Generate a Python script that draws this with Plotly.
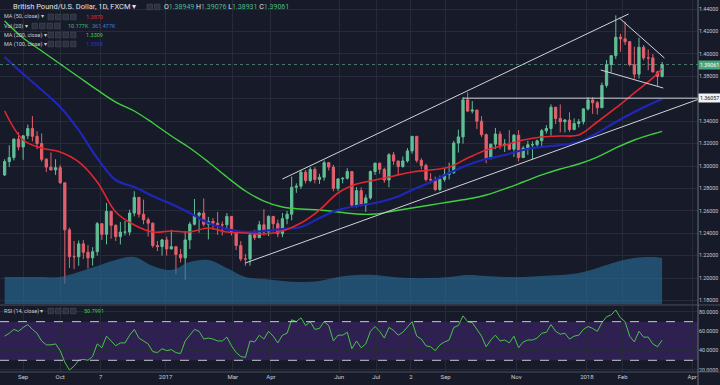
import pandas as pd
import plotly.graph_objects as go

# ---------------- data ----------------
start_date = "2016-08-16"
step_days = 4
first_open = 1.2920

close = [1.3040, 1.3075, 1.3240, 1.3170, 1.3270, 1.3335, 1.3265, 1.3200, 1.3060, 1.2990,
         1.2965, 1.2985, 1.2850, 1.2430, 1.2190, 1.2190, 1.2305, 1.2230, 1.2180, 1.2235,
         1.2485, 1.2390, 1.2595, 1.2470, 1.2370, 1.2410, 1.2410, 1.2580, 1.2720, 1.2570,
         1.2520, 1.2490, 1.2290, 1.2280, 1.2340, 1.2260, 1.2280, 1.2210, 1.2180, 1.2340,
         1.2480, 1.2560, 1.2580, 1.2480, 1.2505, 1.2490, 1.2475, 1.2475, 1.2550, 1.2405,
         1.2290, 1.2170, 1.2170, 1.2385, 1.2360, 1.2475, 1.2410, 1.2550, 1.2485, 1.2395,
         1.2530, 1.2570, 1.2810, 1.2820, 1.2945, 1.2870, 1.2970, 1.2880, 1.2900, 1.3030,
         1.2990, 1.2800, 1.2885, 1.2890, 1.2950, 1.2650, 1.2780, 1.2650, 1.2715, 1.2950,
         1.3025, 1.2970, 1.2875, 1.3100, 1.3045, 1.2995, 1.3045, 1.3135, 1.3265, 1.3050,
         1.3005, 1.2880, 1.2875, 1.2790, 1.2880, 1.2925, 1.2940, 1.3205, 1.3260, 1.3590,
         1.3490, 1.3500, 1.3400, 1.3280, 1.3065, 1.3195, 1.3285, 1.3185, 1.3195, 1.3150,
         1.3275, 1.3075, 1.3160, 1.3190, 1.3190, 1.3225, 1.3315, 1.3335, 1.3525, 1.3425,
         1.3395, 1.3410, 1.3325, 1.3380, 1.3395, 1.3510, 1.3590, 1.3565, 1.3520, 1.3720,
         1.3905, 1.3985, 1.4150, 1.4135, 1.4110, 1.3905, 1.3820, 1.4060, 1.3965, 1.3965,
         1.3840, 1.3800, 1.3906]

high = [1.3060, 1.3185, 1.3245, 1.3300, 1.3275, 1.3370, 1.3445, 1.3310, 1.3290, 1.3070,
        1.3120, 1.3060, 1.3010, 1.2850, 1.2450, 1.2330, 1.2335, 1.2340, 1.2295, 1.2275,
        1.2500, 1.2460, 1.2670, 1.2560, 1.2480, 1.2500, 1.2510, 1.2610, 1.2775, 1.2720,
        1.2700, 1.2540, 1.2495, 1.2330, 1.2350, 1.2370, 1.2430, 1.2280, 1.2260, 1.2420,
        1.2500, 1.2705, 1.2590, 1.2710, 1.2545, 1.2535, 1.2590, 1.2505, 1.2580, 1.2480,
        1.2400, 1.2330, 1.2215, 1.2400, 1.2430, 1.2510, 1.2615, 1.2560, 1.2550, 1.2520,
        1.2580, 1.2600, 1.2905, 1.2845, 1.2965, 1.2965, 1.2990, 1.2990, 1.2930, 1.3050,
        1.3030, 1.3010, 1.2890, 1.2900, 1.2980, 1.2955, 1.2810, 1.2810, 1.2745, 1.2960,
        1.3030, 1.3030, 1.2985, 1.3115, 1.3125, 1.3040, 1.3085, 1.3160, 1.3265, 1.3265,
        1.3070, 1.3020, 1.2935, 1.2905, 1.2915, 1.2980, 1.3030, 1.3225, 1.3325, 1.3615,
        1.3657, 1.3580, 1.3490, 1.3445, 1.3290, 1.3200, 1.3340, 1.3310, 1.3240, 1.3320,
        1.3285, 1.3320, 1.3180, 1.3225, 1.3220, 1.3235, 1.3330, 1.3365, 1.3550, 1.3520,
        1.3550, 1.3420, 1.3480, 1.3425, 1.3420, 1.3515, 1.3615, 1.3615, 1.3580, 1.3745,
        1.3945, 1.3985, 1.4345, 1.4180, 1.4290, 1.4105, 1.4065, 1.4145, 1.4080, 1.4040,
        1.4000, 1.3850, 1.3930]

low = [1.2910, 1.2990, 1.3050, 1.3140, 1.3055, 1.3240, 1.3220, 1.3150, 1.3040, 1.2945,
       1.2960, 1.2920, 1.2840, 1.1950, 1.2090, 1.2080, 1.2110, 1.2170, 1.2085, 1.2110,
       1.2200, 1.2340, 1.2300, 1.2350, 1.2330, 1.2300, 1.2380, 1.2380, 1.2550, 1.2540,
       1.2480, 1.2370, 1.2270, 1.2240, 1.2200, 1.2200, 1.2255, 1.2035, 1.2140, 1.1985,
       1.2260, 1.2470, 1.2405, 1.2460, 1.2345, 1.2430, 1.2385, 1.2380, 1.2430, 1.2380,
       1.2250, 1.2150, 1.2110, 1.2110, 1.2340, 1.2380, 1.2380, 1.2375, 1.2415, 1.2365,
       1.2365, 1.2480, 1.2515, 1.2760, 1.2795, 1.2845, 1.2855, 1.2845, 1.2840, 1.2870,
       1.2960, 1.2775, 1.2775, 1.2845, 1.2880, 1.2635, 1.2630, 1.2640, 1.2590, 1.2700,
       1.2920, 1.2930, 1.2850, 1.2810, 1.3010, 1.2930, 1.2985, 1.3030, 1.3110, 1.3030,
       1.2970, 1.2860, 1.2845, 1.2775, 1.2775, 1.2860, 1.2880, 1.2930, 1.3120, 1.3200,
       1.3485, 1.3470, 1.3330, 1.3260, 1.3025, 1.3075, 1.3150, 1.3150, 1.3125, 1.3140,
       1.3080, 1.3040, 1.3090, 1.3100, 1.3060, 1.3170, 1.3170, 1.3290, 1.3270, 1.3375,
       1.3300, 1.3300, 1.3305, 1.3320, 1.3345, 1.3370, 1.3495, 1.3465, 1.3460, 1.3520,
       1.3700, 1.3835, 1.3955, 1.4020, 1.4080, 1.3890, 1.3780, 1.3780, 1.3945, 1.3855,
       1.3835, 1.3710, 1.3790]

rsi = [55, 58, 62, 60, 64, 67, 62, 58, 50, 46,
       46, 47, 40, 28, 20, 24, 30, 31, 30, 34,
       47, 43, 55, 50, 45, 48, 48, 56, 62, 53,
       50, 47, 39, 38, 42, 40, 41, 38, 37, 50,
       56, 62, 60, 52, 53, 52, 50, 50, 54, 45,
       38, 34, 33, 50, 49, 56, 52, 60, 55, 48,
       56, 58, 72, 70, 74, 66, 70, 62, 63, 70,
       66, 50, 56, 56, 59, 42, 50, 43, 47, 60,
       65, 60, 53, 64, 61, 56, 59, 64, 70, 55,
       52, 45, 44, 40, 46, 49, 51, 64, 66, 76,
       70, 69, 62, 55, 44, 51, 56, 50, 51, 48,
       55, 43, 49, 51, 51, 53, 58, 59, 67, 60,
       57, 58, 52, 55, 56, 62, 65, 63, 60, 69,
       75, 77, 82, 74, 70, 55, 49, 60, 54, 54,
       47, 44, 50.7991]

# moving averages and volume average, one value every 4th candle plus the last one
ma50 = [1.3491, 1.3232, 1.3161, 1.3125, 1.3036, 1.2857, 1.2589, 1.2473, 1.2411, 1.2420,
        1.2411, 1.2446, 1.2411, 1.2402, 1.2393, 1.2420, 1.2491, 1.2607, 1.2759, 1.2839,
        1.2875, 1.2911, 1.2946, 1.2964, 1.2991, 1.3071, 1.3143, 1.3187, 1.3232, 1.3259,
        1.3268, 1.3277, 1.3393, 1.3518, 1.3652, 1.3786, 1.3870]
ma100 = [1.3973, 1.3821, 1.3679, 1.3527, 1.3321, 1.3071, 1.2875, 1.2812, 1.2732, 1.2661,
         1.2580, 1.2491, 1.2437, 1.2411, 1.2420, 1.2437, 1.2455, 1.2536, 1.2607, 1.2643,
         1.2670, 1.2714, 1.2786, 1.2857, 1.2937, 1.3009, 1.3062, 1.3098, 1.3143, 1.3170,
         1.3187, 1.3214, 1.3295, 1.3393, 1.3482, 1.3562, 1.3598]
ma200 = [1.4295, 1.4143, 1.4027, 1.3911, 1.3795, 1.3679, 1.3571, 1.3491, 1.3384, 1.3268,
         1.3161, 1.3036, 1.2902, 1.2777, 1.2687, 1.2634, 1.2616, 1.2607, 1.2589, 1.2571,
         1.2571, 1.2598, 1.2625, 1.2652, 1.2679, 1.2705, 1.2741, 1.2795, 1.2857, 1.2920,
         1.2973, 1.3018, 1.3080, 1.3161, 1.3232, 1.3286, 1.3309]
vol_ma_k = [212, 212, 212, 212, 251, 298, 346, 369, 298, 267,
            330, 346, 283, 212, 196, 181, 173, 181, 212, 228,
            228, 212, 204, 204, 212, 228, 220, 212, 212, 220,
            228, 244, 283, 330, 361, 369, 361.477]

# drawn lines (date, price)
channel_top_x = ["2017-04-13", "2018-02-06"]
channel_top_y = [1.2884, 1.4357]
channel_bot_x = ["2017-03-12", "2018-04-08"]
channel_bot_y = [1.2134, 1.3598]
resist_x = ["2017-09-16", "2018-04-08"]
resist_y = [1.36057, 1.36057]
wedge_top_x = ["2018-01-29", "2018-03-09"]
wedge_top_y = [1.4321, 1.3964]
wedge_bot_x = ["2018-01-13", "2018-03-08"]
wedge_bot_y = [1.3857, 1.3696]

x_tick_vals = ["2016-09-01", "2016-10-03", "2016-11-07", "2017-01-02", "2017-03-01",
               "2017-04-03", "2017-06-01", "2017-07-03", "2017-08-02", "2017-09-01",
               "2017-11-01", "2018-01-01", "2018-02-01", "2018-04-02"]
x_tick_text = ["Sep", "Oct", "7", "2017", "Mar", "Apr", "Jun", "Jul", "2", "Sep",
               "Nov", "2018", "Feb", "Apr"]
price_ticks = [1.18, 1.20, 1.22, 1.24, 1.26, 1.28, 1.30, 1.32, 1.34, 1.36, 1.38, 1.40, 1.42, 1.44]
rsi_ticks = [20, 40, 60, 80]

last_price = 1.39061
level_price = 1.36057

# ---------------- styling ----------------
BG = "#171b29"
GRID = "#262a39"
UP = "#5fbf96"
DOWN = "#e2606c"
TXT = "#c9ccd6"
W, H = 720, 385
ML, MR, MT, MB = 0, 22, 0, 13
PW, PH = W - ML - MR, H - MT - MB


def px(x):
    return x / PW


def py(y):
    return (PH - y) / PH


dates = pd.date_range(start_date, periods=len(close), freq=f"{step_days}D")
opens = [first_open] + close[:-1]
ma_dates = list(dates[::4]) + [dates[-1]]

fig = go.Figure()

fig.add_trace(go.Scatter(x=ma_dates, y=vol_ma_k, mode="lines", line=dict(width=0, shape="spline"),
                         fill="tozeroy", fillcolor="rgba(40,110,155,0.62)", yaxis="y3",
                         hoverinfo="skip", showlegend=False))

fig.add_trace(go.Candlestick(x=dates, open=opens, high=high, low=low, close=close,
                             increasing=dict(line=dict(color=UP, width=1), fillcolor=UP),
                             decreasing=dict(line=dict(color=DOWN, width=1), fillcolor=DOWN),
                             whiskerwidth=0, showlegend=False))

for ys, col, wd in [(ma200, "#3fcf3f", 1.4), (ma100, "#1f26b8", 2.2), (ma50, "#e3262e", 1.6)]:
    fig.add_trace(go.Scatter(x=ma_dates, y=ys, mode="lines", line=dict(color=col, width=wd, shape="spline"),
                             showlegend=False, hoverinfo="skip"))

for lx, ly in [(channel_top_x, channel_top_y), (channel_bot_x, channel_bot_y), (resist_x, resist_y),
               (wedge_top_x, wedge_top_y), (wedge_bot_x, wedge_bot_y)]:
    fig.add_trace(go.Scatter(x=lx, y=ly, mode="lines", line=dict(color="#d0d3da", width=1),
                             showlegend=False, hoverinfo="skip"))

fig.add_trace(go.Scatter(x=dates, y=rsi, mode="lines", line=dict(color="#47c447", width=1),
                         xaxis="x2", yaxis="y2", showlegend=False, hoverinfo="skip"))

x_range = ["2016-08-12", "2018-04-07"]
axis_common = dict(showgrid=True, gridcolor=GRID, gridwidth=1, zeroline=False, showline=False)

fig.update_layout(
    width=W, height=H, margin=dict(l=ML, r=MR, t=MT, b=MB, pad=0),
    paper_bgcolor=BG, plot_bgcolor=BG,
    font=dict(family="Roboto, Arial, sans-serif", color=TXT, size=6),
    xaxis=dict(domain=[0, 1], anchor="y", range=x_range, type="date", tickvals=x_tick_vals,
               showticklabels=False, rangeslider=dict(visible=False), **axis_common),
    xaxis2=dict(domain=[0, 1], anchor="y2", range=x_range, type="date", matches="x",
                tickvals=x_tick_vals, ticktext=x_tick_text, ticks="", ticklabelstandoff=0,
                tickfont=dict(size=6, color=TXT), **axis_common),
    yaxis=dict(domain=[py(304), 1], side="right", range=[1.1768, 1.4482], tickvals=price_ticks,
               tickformat=".5f", ticks="", ticklabelstandoff=0,
               tickfont=dict(size=5.3, color=TXT), **axis_common),
    yaxis2=dict(domain=[0, py(306)], side="right", range=[17.9, 86.2], tickvals=rsi_ticks,
                tickformat=".4f", ticks="", ticklabelstandoff=0,
                tickfont=dict(size=5.3, color=TXT), **axis_common),
    yaxis3=dict(overlaying="y", range=[0, 2389], visible=False),
)

shapes = []
# RSI band and levels
shapes.append(dict(type="rect", xref="x2 domain", yref="y2", x0=0, x1=1, y0=30, y1=70,
                   fillcolor="rgba(95,45,165,0.33)", line=dict(width=0), layer="below"))
for lv in (30, 70):
    shapes.append(dict(type="line", xref="x2 domain", yref="y2", x0=0, x1=1, y0=lv, y1=lv,
                       line=dict(color="#c8c8d0", width=1, dash="dash")))
# last price dotted line
shapes.append(dict(type="line", xref="x domain", yref="y", x0=0, x1=1, y0=last_price, y1=last_price,
                   line=dict(color="rgba(120,190,160,0.55)", width=1, dash="dot")))
# pane separators
shapes.append(dict(type="line", xref="paper", yref="paper", x0=0, x1=W / PW, y0=py(305), y1=py(305),
                   line=dict(color="#4a4e5c", width=1)))
shapes.append(dict(type="line", xref="paper", yref="paper", x0=0, x1=W / PW, y0=py(372), y1=py(372),
                   line=dict(color="#4a4e5c", width=1)))
shapes.append(dict(type="line", xref="paper", yref="paper", x0=1, x1=1, y0=py(385), y1=1,
                   line=dict(color="#6a6e7c", width=1)))

# small legend icon boxes
def boxes(x_start, y, n):
    for k in range(n):
        x0 = x_start + k * 7.5
        shapes.append(dict(type="rect", xref="paper", yref="paper", x0=px(x0), x1=px(x0 + 5.5),
                           y0=py(y + 2.8), y1=py(y - 2.8), fillcolor="#2c3040",
                           line=dict(color="#474b5a", width=0.6)))

boxes(147, 7, 2)
boxes(48, 17, 4)
boxes(32, 26, 4)
boxes(48, 35, 4)
boxes(48, 44, 4)
boxes(48, 311, 4)

fig.update_layout(shapes=shapes)

ann = []


def text(x, y, s, size=5.5, color=TXT):
    ann.append(dict(xref="paper", yref="paper", x=px(x), y=py(y), text=s, showarrow=False,
                    xanchor="left", yanchor="middle", font=dict(size=size, color=color)))


text(11, 7, "British Pound/U.S. Dollar, 1D, FXCM ▾", size=7.5, color="#e0e3ea")
G = "#4fb88a"
text(162, 7, f"O<span style='color:{G}'>1.38949</span> H<span style='color:{G}'>1.39076</span> "
     f"L<span style='color:{G}'>1.38931</span> C<span style='color:{G}'>1.39061</span>", size=7,
     color="#e0e3ea")
text(2, 17, "MA (50, close) ▾")
text(84, 17, "1.3870", color="#e3262e")
text(2, 26, "Vol (20) ▾")
text(66, 26, "10.177K", color="#3fbf6f")
text(90, 26, "361.477K", color="#3c7fd0")
text(2, 35, "MA (200, close) ▾")
text(84, 35, "1.3309", color="#3fcf3f")
text(2, 44, "MA (100, close) ▾")
text(84, 44, "1.3598", color="#2a34c8")
text(2, 311, "RSI (14, close) ▾")
text(82, 311, "50.7991", color="#3fcf3f")

# price axis labels
ann.append(dict(xref="paper", yref="y", x=1, y=last_price, text="1.39061", showarrow=False,
                xanchor="left", yanchor="middle", bgcolor="#4aa57f", font=dict(size=5.3, color="#ffffff"),
                borderpad=1))
ann.append(dict(xref="paper", yref="y", x=1, y=level_price, text="1.36057", showarrow=False,
                xanchor="left", yanchor="middle", bgcolor="#f2f2f2", font=dict(size=5.3, color="#111111"),
                borderpad=1))
fig.update_layout(annotations=ann)

fig.write_html("out.html", config={"displayModeBar": False},
               post_script="document.body.style.margin='0';document.body.style.overflow='hidden';")
